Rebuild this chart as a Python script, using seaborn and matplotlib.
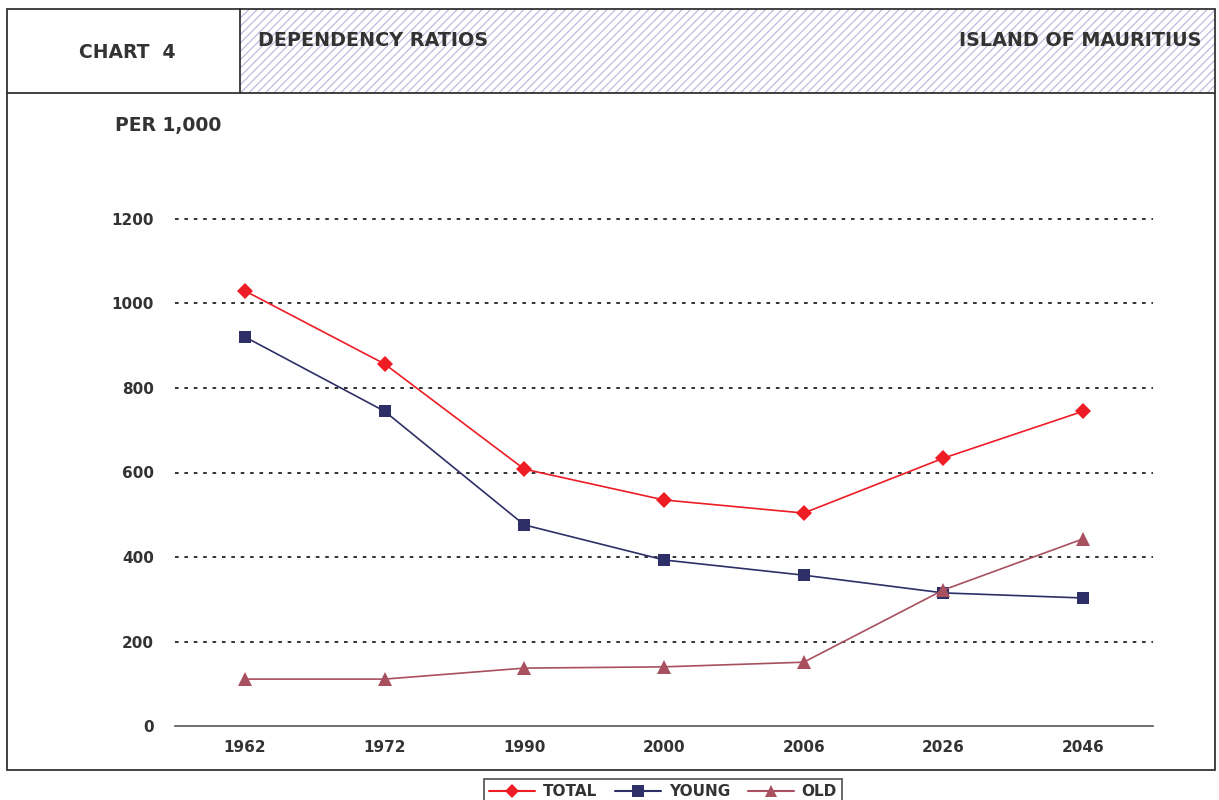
import pandas as pd
import numpy as np
import matplotlib
matplotlib.use("Agg")
import matplotlib.pyplot as plt
from matplotlib.patches import Rectangle
from matplotlib.lines import Line2D
import seaborn as sns

# data (per 1,000)
years = ["1962", "1972", "1990", "2000", "2006", "2026", "2046"]
total = [1030, 857, 608, 535, 504, 634, 745]
young = [921, 745, 476, 393, 357, 315, 303]
old = [111, 111, 137, 140, 151, 322, 443]
series_names = ["TOTAL", "YOUNG", "OLD"]
yticks = [0, 200, 400, 600, 800, 1000, 1200]

df = pd.DataFrame({
    "year": years * 3,
    "value": total + young + old,
    "series": [s for s in series_names for _ in years],
})

sns.set_theme(style="white")
plt.rcParams["font.family"] = ["DejaVu Sans"]
plt.rcParams["hatch.linewidth"] = 0.9
txt = "#333333"

fig = plt.figure(figsize=(12.19, 8), dpi=100)
W, H = 1219, 800

def fx(px):
    return px / W

def fy(py):
    return 1 - py / H

# frame and header
hatch = Rectangle((fx(240), fy(93)), fx(1215) - fx(240), fy(9) - fy(93),
                  transform=fig.transFigure, facecolor="white", edgecolor="#bebbde",
                  hatch="////", lw=0, zorder=0)
fig.patches.append(hatch)
border = Rectangle((fx(7), fy(770)), fx(1215) - fx(7), fy(9) - fy(770),
                   transform=fig.transFigure, fill=False, edgecolor=txt, lw=1.3, zorder=1)
fig.patches.append(border)
fig.add_artist(Line2D([fx(7), fx(1215)], [fy(93), fy(93)], transform=fig.transFigure,
                      color=txt, lw=1.3))
fig.add_artist(Line2D([fx(240), fx(240)], [fy(9), fy(93)], transform=fig.transFigure,
                      color=txt, lw=1.3))

fig.text(fx(127), fy(52), "CHART  4", ha="center", va="center", fontsize=13.5,
         fontweight="bold", color=txt)
fig.text(fx(258), fy(40), "DEPENDENCY RATIOS", ha="left", va="center", fontsize=13.8,
         fontweight="bold", color=txt)
fig.text(fx(1201), fy(40), "ISLAND OF MAURITIUS", ha="right", va="center", fontsize=13.8,
         fontweight="bold", color=txt)
fig.text(fx(115), fy(125), "PER 1,000", ha="left", va="center", fontsize=13.5,
         fontweight="bold", color=txt)

ax = fig.add_axes([fx(175), fy(726), fx(1153) - fx(175), fy(219) - fy(726)])
ax.set_facecolor("none")

palette = {"TOTAL": "#ee1c25", "YOUNG": "#2e2f66", "OLD": "#a8505f"}
markers = {"TOTAL": "D", "YOUNG": "s", "OLD": "^"}
sizes = {"TOTAL": 8, "YOUNG": 9, "OLD": 10}

for s in series_names:
    sub = df[df["series"] == s]
    sns.lineplot(data=sub, x="year", y="value", ax=ax, color=palette[s], marker=markers[s],
                 markersize=sizes[s], markeredgewidth=0, linewidth=1.2, sort=False,
                 legend=False, zorder=3)

ax.set_xlim(-0.5, len(years) - 0.5)
ax.set_ylim(0, 1200)
ax.set_yticks(yticks)
ax.set_yticklabels([str(v) for v in yticks])
for v in yticks[1:]:
    ax.axhline(v, color="#222222", lw=1.3, linestyle=(0, (2, 3.2)), zorder=1, clip_on=False)

ax.set_xticks(range(len(years)))
ax.set_xticklabels(years)
ax.set_xticks(np.arange(-0.5, len(years), 1), minor=True)
ax.tick_params(axis="x", which="major", length=0, pad=10, labelsize=11, colors=txt)
ax.tick_params(axis="x", which="minor", length=6, direction="out", width=1, color="#555555")
ax.tick_params(axis="y", length=0, pad=15, labelsize=11, colors=txt)
for lab in ax.get_xticklabels() + ax.get_yticklabels():
    lab.set_fontweight("bold")
ax.set_xlabel("")
ax.set_ylabel("")
for side in ["top", "right", "left"]:
    ax.spines[side].set_visible(False)
ax.spines["bottom"].set_color("#555555")
ax.spines["bottom"].set_linewidth(1.2)
ax.grid(False)

handles = [Line2D([], [], color=palette[s], marker=markers[s], markersize=sizes[s] - 1,
                  markeredgewidth=0, lw=1.5) for s in series_names]
leg = fig.legend(handles, series_names, loc="upper center", bbox_to_anchor=(fx(663), fy(779)),
                 ncol=3, frameon=True, fancybox=False, edgecolor=txt,
                 handlelength=3, columnspacing=1.2, handletextpad=0.5, borderpad=0.35,
                 borderaxespad=0, prop={"weight": "bold", "size": 11})
leg.get_frame().set_linewidth(1.3)
for t in leg.get_texts():
    t.set_color(txt)

fig.savefig("out.png", dpi=100)
